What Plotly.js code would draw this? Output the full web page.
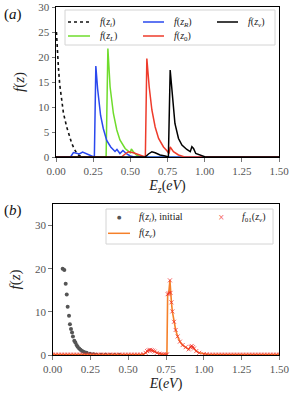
<!DOCTYPE html>
<html>
<head>
<meta charset="utf-8">
<script src="https://cdn.plot.ly/plotly-3.0.1.min.js"></script>
<style>html,body{margin:0;padding:0;background:#fff}#chart{width:291px;height:396px}</style>
</head>
<body>
<div id="chart"></div>
<script>
// ---------- Panel (a) ----------
const ziX = [0.003, 0.008, 0.016, 0.025, 0.038, 0.05, 0.072, 0.09, 0.106, 0.125, 0.14, 0.155, 0.17, 0.19, 0.22, 0.3];
const ziY = [25, 21.5, 18, 14.5, 11.4, 8.8, 6, 4.2, 2.7, 1.5, 0.7, 0.3, 0.07, 0.02, 0.01, 0];

const zLX = [0, 0.337, 0.349, 0.364, 0.386, 0.409, 0.43, 0.465, 0.499, 0.507, 0.52, 0.54, 0.566, 0.65, 1.5];
const zLY = [0, 0, 21.7, 14, 8.7, 5.4, 3.4, 1.7, 0.86, 1.6, 1.06, 0.4, 0.07, 0, 0];

const zRX = [0, 0.06, 0.1, 0.117, 0.139, 0.157, 0.179, 0.206, 0.24, 0.258, 0.268, 0.28, 0.29, 0.3, 0.318, 0.341, 0.368, 0.397, 0.41, 0.43, 0.45, 0.476, 0.5, 0.52, 0.6, 1.5];
const zRY = [0, 0, 0.1, 0.9, 0.75, 0.6, 1.0, 0.6, 0.2, 0, 18.2, 13.6, 10.5, 8.3, 5.7, 3.3, 2.0, 1.1, 1.5, 0.7, 1.3, 0.6, 0.2, 0.05, 0, 0];

const z0X = [0, 0.44, 0.465, 0.487, 0.52, 0.566, 0.59, 0.601, 0.611, 0.627, 0.645, 0.667, 0.69, 0.723, 0.746, 0.76, 0.768, 0.79, 0.824, 0.86, 0.95, 1.5];
const z0Y = [0, 0, 0.6, 1.06, 0.86, 0.4, 0.1, 0, 19.7, 14, 9.4, 6, 3.7, 2, 1.26, 0.7, 2, 1.06, 0.4, 0.07, 0, 0];

const zvX = [0, 0.6, 0.622, 0.645, 0.667, 0.7, 0.734, 0.756, 0.768, 0.784, 0.8, 0.824, 0.847, 0.88, 0.903, 0.914, 0.925, 0.94, 0.97, 1.0, 1.06, 1.5];
const zvY = [0, 0, 0.6, 1.06, 0.86, 0.4, 0.2, 0, 17.4, 12, 6.7, 3.7, 2.4, 1.5, 1.06, 2.06, 1.7, 0.7, 0.4, 0.07, 0, 0];

// ---------- Panel (b) ----------
const initX = [0.066, 0.077, 0.086, 0.093, 0.099, 0.108, 0.114, 0.121, 0.128, 0.134, 0.143, 0.15, 0.158, 0.165, 0.175, 0.184, 0.195, 0.208, 0.225, 0.247, 0.27, 0.29, 0.32, 0.35, 0.38, 0.41, 0.44];
const initY = [20.0, 19.7, 16.5, 14.0, 11.2, 9.1, 7.1, 6.0, 5.2, 4.3, 3.3, 2.9, 2.3, 1.9, 1.5, 1.2, 0.9, 0.7, 0.5, 0.3, 0.15, 0.08, 0.05, 0.03, 0.02, 0.01, 0.01];

const fvX = [0, 0.02, 0.04, 0.06, 0.08, 0.1, 0.12, 0.14, 0.16, 0.18, 0.2, 0.22, 0.24, 0.26, 0.28, 0.3, 0.32, 0.34, 0.36, 0.38, 0.4, 0.42, 0.44, 0.46, 0.48, 0.5, 0.52, 0.54, 0.56, 0.58, 0.6, 0.615, 0.625, 0.635, 0.645, 0.655, 0.665, 0.675, 0.69, 0.705, 0.72, 0.735, 0.75, 0.756, 0.761, 0.768, 0.776, 0.78, 0.786, 0.792, 0.803, 0.814, 0.827, 0.842, 0.86, 0.88, 0.9, 0.912, 0.92, 0.928, 0.935, 0.95, 0.97, 1.0, 1.02, 1.04, 1.06, 1.08, 1.1, 1.12, 1.14, 1.16, 1.18, 1.2, 1.22, 1.24, 1.26, 1.28, 1.3, 1.32, 1.34, 1.36, 1.38, 1.4, 1.42, 1.44, 1.46, 1.48, 1.5];
const fvY = [0.1, 0.1, 0.1, 0.1, 0.1, 0.1, 0.1, 0.1, 0.1, 0.1, 0.1, 0.1, 0.1, 0.1, 0.1, 0.1, 0.1, 0.1, 0.1, 0.1, 0.1, 0.1, 0.1, 0.1, 0.1, 0.1, 0.1, 0.1, 0.1, 0.1, 0.15, 0.5, 0.9, 1.1, 1.2, 1.1, 1.0, 0.8, 0.5, 0.3, 0.2, 0.15, 0.1, 0.1, 14.1, 14.3, 17.3, 14.4, 12.2, 10.1, 7.7, 5.8, 4.3, 3.1, 2.3, 1.8, 1.3, 1.9, 2.1, 1.8, 1.5, 0.9, 0.5, 0.2, 0.15, 0.1, 0.1, 0.1, 0.1, 0.1, 0.1, 0.1, 0.1, 0.1, 0.1, 0.1, 0.1, 0.1, 0.1, 0.1, 0.1, 0.1, 0.1, 0.1, 0.1, 0.1, 0.1, 0.1, 0.1];

const xTicks = [0, 0.25, 0.5, 0.75, 1.0, 1.25, 1.5];
const xTickText = ['0.00', '0.25', '0.50', '0.75', '1.00', '1.25', '1.50'];
const yTicksA = [0, 5, 10, 15, 20, 25, 30];
const yTicksB = [0, 10, 20, 30];

// legend labels
const labA = ['<i>f</i>(<i>z<sub>i</sub></i>)', '<i>f</i>(<i>z<sub>R</sub></i>)', '<i>f</i>(<i>z<sub>v</sub></i>)',
              '<i>f</i>(<i>z<sub>L</sub></i>)', '<i>f</i>(<i>z</i><sub>0</sub>)'];
const labB = ['<i>f</i>(<i>z<sub>i</sub></i>), initial', '<i>f</i><sub>01</sub>(<i>z<sub>v</sub></i>)', '<i>f</i>(<i>z<sub>v</sub></i>)'];

const FONT = 'Liberation Serif';
const W = 291, H = 396;
const C = {zi: '#111111', zL: '#6fdc2c', zR: '#2a48ee', z0: '#ee3b2b', zv: '#000000',
           init: '#555555', fv: '#f5802a', f01: 'rgba(240,40,40,0.75)'};

const traces = [
  {x: ziX, y: ziY, xaxis: 'x', yaxis: 'y', mode: 'lines', name: labA[0], line: {color: C.zi, width: 1.6, dash: 'dot'}},
  {x: zLX, y: zLY, xaxis: 'x', yaxis: 'y', mode: 'lines', name: labA[3], line: {color: C.zL, width: 1.5}},
  {x: zRX, y: zRY, xaxis: 'x', yaxis: 'y', mode: 'lines', name: labA[1], line: {color: C.zR, width: 1.5}},
  {x: z0X, y: z0Y, xaxis: 'x', yaxis: 'y', mode: 'lines', name: labA[4], line: {color: C.z0, width: 1.5}},
  {x: zvX, y: zvY, xaxis: 'x', yaxis: 'y', mode: 'lines', name: labA[2], line: {color: C.zv, width: 1.5}},
  {x: initX, y: initY, xaxis: 'x2', yaxis: 'y2', mode: 'markers', name: labB[0], marker: {color: C.init, size: 4}},
  {x: fvX, y: fvY, xaxis: 'x2', yaxis: 'y2', mode: 'lines', name: labB[2], line: {color: C.fv, width: 1.6}},
  {x: fvX, y: fvY, xaxis: 'x2', yaxis: 'y2', mode: 'markers', name: labB[1],
   marker: {symbol: 'x-thin', size: 4, color: C.f01, line: {color: C.f01, width: 1}}}
];

function xAxis(domain, anchor, title) {
  return {
    domain: domain, anchor: anchor, range: [0, 1.5],
    tickvals: xTicks, ticktext: xTickText,
    ticks: 'outside', ticklen: 3.5, tickwidth: 0.8, tickcolor: '#555',
    tickfont: {family: FONT, size: 11, color: '#555'},
    showline: true, mirror: true, linecolor: '#000', linewidth: 1,
    showgrid: false, zeroline: false,
    title: {text: title, font: {family: FONT, size: 14, color: '#222'}, standoff: 4}
  };
}
function yAxis(domain, anchor, range, ticks) {
  return {
    domain: domain, anchor: anchor, range: range, tickvals: ticks,
    ticks: 'outside', ticklen: 3.5, tickwidth: 0.8, tickcolor: '#555',
    tickfont: {family: FONT, size: 11, color: '#555'},
    showline: true, mirror: true, linecolor: '#000', linewidth: 1,
    showgrid: false, zeroline: false,
    title: {text: '<i>f</i>(<i>z</i>)', font: {family: FONT, size: 15, color: '#222'}, standoff: 10}
  };
}

// ---- legend construction (frames, keys, labels) ----
const shapes = [];
const annotations = [];
function px(x) { return x / W; }
function py(y) { return 1 - y / H; }
function frame(x0, y0, x1, y1) {
  shapes.push({type: 'rect', xref: 'paper', yref: 'paper', x0: px(x0), x1: px(x1), y0: py(y0), y1: py(y1),
               fillcolor: 'rgba(255,255,255,0.85)', line: {color: '#d4d4d4', width: 1}});
}
function keyLine(x0, x1, y, color, dash) {
  shapes.push({type: 'line', xref: 'paper', yref: 'paper', x0: px(x0), x1: px(x1), y0: py(y), y1: py(y),
               line: {color: color, width: 1.5, dash: dash || 'solid'}});
}
function label(text, x, y) {
  annotations.push({text: text, xref: 'paper', yref: 'paper', x: px(x), y: py(y), xanchor: 'left', yanchor: 'middle',
                    showarrow: false, font: {family: FONT, size: 10, color: '#222'}});
}
function glyph(text, x, y, color, size) {
  annotations.push({text: text, xref: 'paper', yref: 'paper', x: px(x), y: py(y), xanchor: 'center', yanchor: 'middle',
                    showarrow: false, font: {family: 'DejaVu Sans', size: size, color: color}});
}

// legend (a)
frame(65, 10, 275, 45);
keyLine(68, 90, 22, C.zi, 'dot');  label(labA[0], 98, 22);
keyLine(143, 164, 22, C.zR);       label(labA[1], 172, 22);
keyLine(217, 238, 22, C.zv);       label(labA[2], 246, 22);
keyLine(68, 90, 36, C.zL);         label(labA[3], 98, 36);
keyLine(143, 164, 36, C.z0);       label(labA[4], 172, 36);

// legend (b)
frame(106, 209, 273, 244);
glyph('●', 119, 217.5, C.init, 5);  label(labB[0], 137, 217.7);
glyph('×', 221, 217.5, C.f01, 8);   label(labB[1], 240, 217.7);
keyLine(108, 130, 233.3, C.fv);     label(labB[2], 137, 233.3);

// panel tags
annotations.push({text: '(<i>a</i>)', xref: 'paper', yref: 'paper', x: px(2), y: py(14),
  xanchor: 'left', yanchor: 'middle', showarrow: false, font: {family: FONT, size: 15, color: '#111'}});
annotations.push({text: '(<i>b</i>)', xref: 'paper', yref: 'paper', x: px(2), y: py(210),
  xanchor: 'left', yanchor: 'middle', showarrow: false, font: {family: FONT, size: 15, color: '#111'}});

const layout = {
  width: W, height: H,
  margin: {l: 0, r: 0, t: 0, b: 0},
  paper_bgcolor: '#fff', plot_bgcolor: '#fff',
  showlegend: false,
  font: {family: FONT},
  xaxis: xAxis([56 / W, 279 / W], 'y', '<i>E<sub>z</sub></i>(<i>eV</i>)'),
  yaxis: yAxis([1 - 157 / H, 1 - 7 / H], 'x', [0, 30], yTicksA),
  xaxis2: xAxis([52.7 / W, 279.3 / W], 'y2', '<i>E</i>(<i>eV</i>)'),
  yaxis2: yAxis([1 - 355 / H, 1 - 204 / H], 'x2', [0, 35], yTicksB),
  shapes: shapes,
  annotations: annotations
};

Plotly.newPlot('chart', traces, layout, {staticPlot: true, displayModeBar: false});
</script>
</body>
</html>
